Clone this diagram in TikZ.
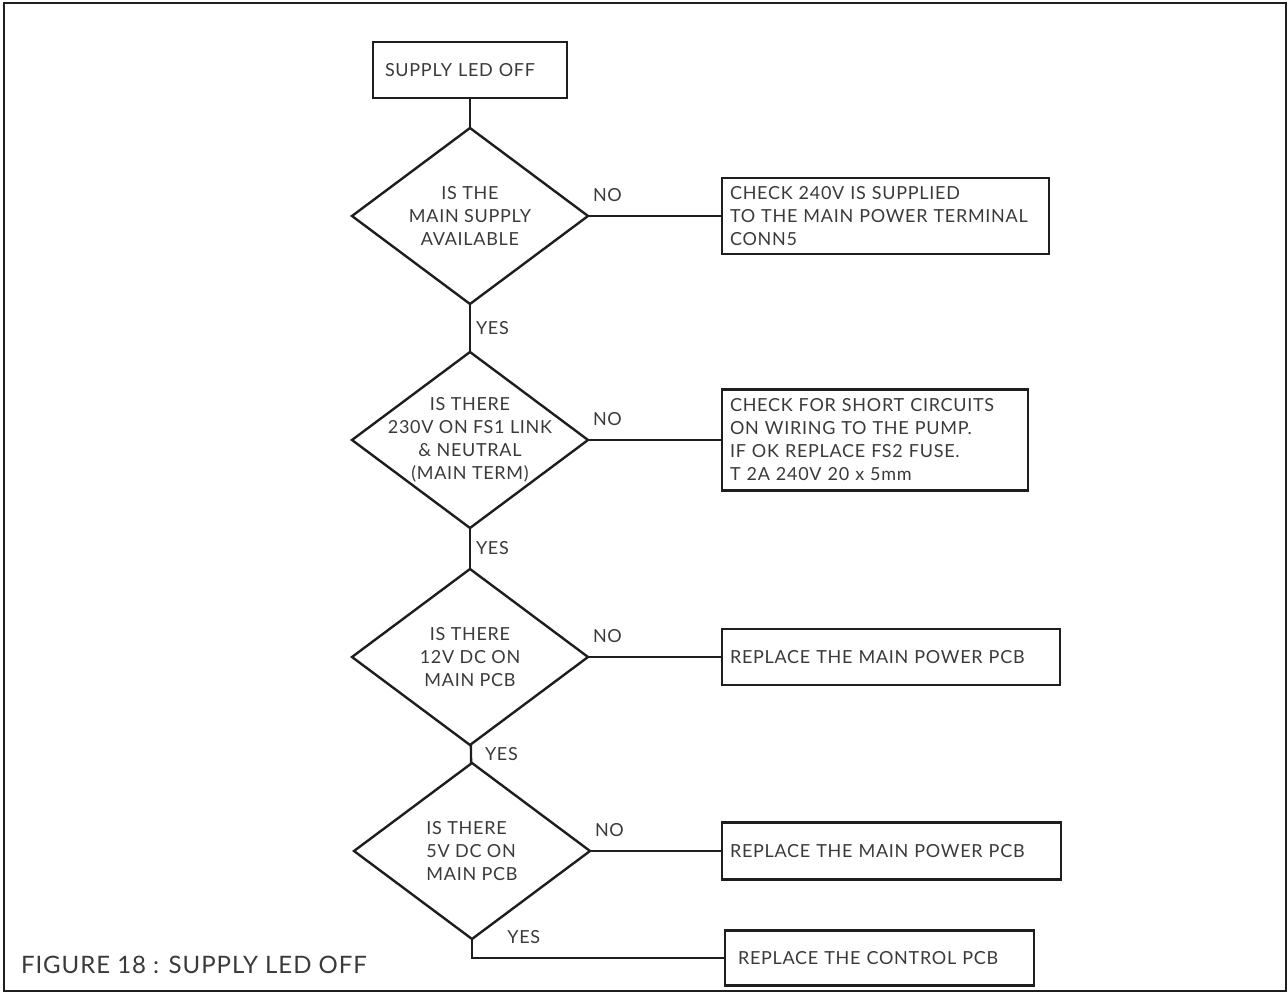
\documentclass[tikz,border=0pt]{standalone}
\usepackage{fontspec}
\setmainfont{Lato}[LetterSpace=4]
\usetikzlibrary{positioning,shapes.geometric}
\definecolor{ink}{HTML}{1E1E1E}
\definecolor{txt}{HTML}{3A3A3A}

\begin{document}
\begin{tikzpicture}[x=1pt, y=1pt, line width=2.4pt, draw=ink,
    every node/.style={outer sep=0pt, text=txt, font=\fontsize{18}{23}\selectfont},
    every label/.style={inner sep=0pt},
    test/.style={draw=ink, diamond, minimum width=236pt, minimum height=176pt, inner sep=0pt},
    box/.style={draw=ink, rectangle, align=left, inner xsep=8pt, inner ysep=0pt},
    no/.style={anchor=south west, inner sep=0pt, at start, xshift=5pt, yshift=14pt},
    yes/.style={anchor=west, inner sep=0pt, midway, xshift=6pt}]

    \useasboundingbox (0,0) rectangle (1288,994);
    \draw[line width=2.5pt] (4,3) rectangle (1286,991);

    \node[box, inner xsep=12pt, text width=170pt, minimum height=56pt] (start) at (470,924) {SUPPLY LED OFF};

    \node[test, below=30pt of start, label={[align=center]center:{IS THE\\MAIN SUPPLY\\AVAILABLE}}] (q1) {};
    \node[test, below=48pt of q1, label={[align=center]center:{IS THERE\\230V ON FS1 LINK\\\& NEUTRAL\\(MAIN TERM)}}] (q2) {};
    \node[test, below=41pt of q2, label={[align=center]center:{IS THERE\\12V DC ON\\MAIN PCB}}] (q3) {};
    \node[test, below=18pt of q3, xshift=2pt, label={[align=left]center:{IS THERE\\5V DC ON\\MAIN PCB}}] (q4) {};
    \coordinate[below=19pt of q4.south] (bend);

    \node[box, right=134pt of q1, text width=311pt, minimum height=76pt] (fix1) {CHECK 240V IS SUPPLIED\\TO THE MAIN POWER TERMINAL\\CONN5};
    \node[box, right=134pt of q2, text width=290pt, minimum height=101pt] (fix2) {CHECK FOR SHORT CIRCUITS\\ON WIRING TO THE PUMP.\\IF OK REPLACE FS2 FUSE.\\T 2A 240V 20 x 5mm};
    \node[box, right=134pt of q3, text width=322pt, minimum height=56pt] (fix3) {REPLACE THE MAIN POWER PCB};
    \node[box, right=132pt of q4, text width=323pt, minimum height=57pt] (fix4) {REPLACE THE MAIN POWER PCB};
    \node[box, right=253pt of bend, inner xsep=13pt, text width=283pt, minimum height=55pt] (fix5) {REPLACE THE CONTROL PCB};

    \node[anchor=base west, inner sep=0pt, font=\fontsize{24}{28}\selectfont] (title) at (21,21) {FIGURE 18 : SUPPLY LED OFF};

    \draw (start) -- (q1);
    \draw (q1) -- node[yes] {YES} (q2);
    \draw (q2) -- node[yes] {YES} (q3);
    \draw (q3) -- node[yes, xshift=8pt] {YES} (q4);
    \draw (q4.south) -- (bend) -- node[pos=0.14, anchor=south west, inner sep=0pt, yshift=14pt] {YES} (fix5);

    \draw (q1) -- node[no] {NO} (fix1);
    \draw (q2) -- node[no] {NO} (fix2);
    \draw (q3) -- node[no] {NO} (fix3);
    \draw (q4) -- node[no] {NO} (fix4);
\end{tikzpicture}
\end{document}
